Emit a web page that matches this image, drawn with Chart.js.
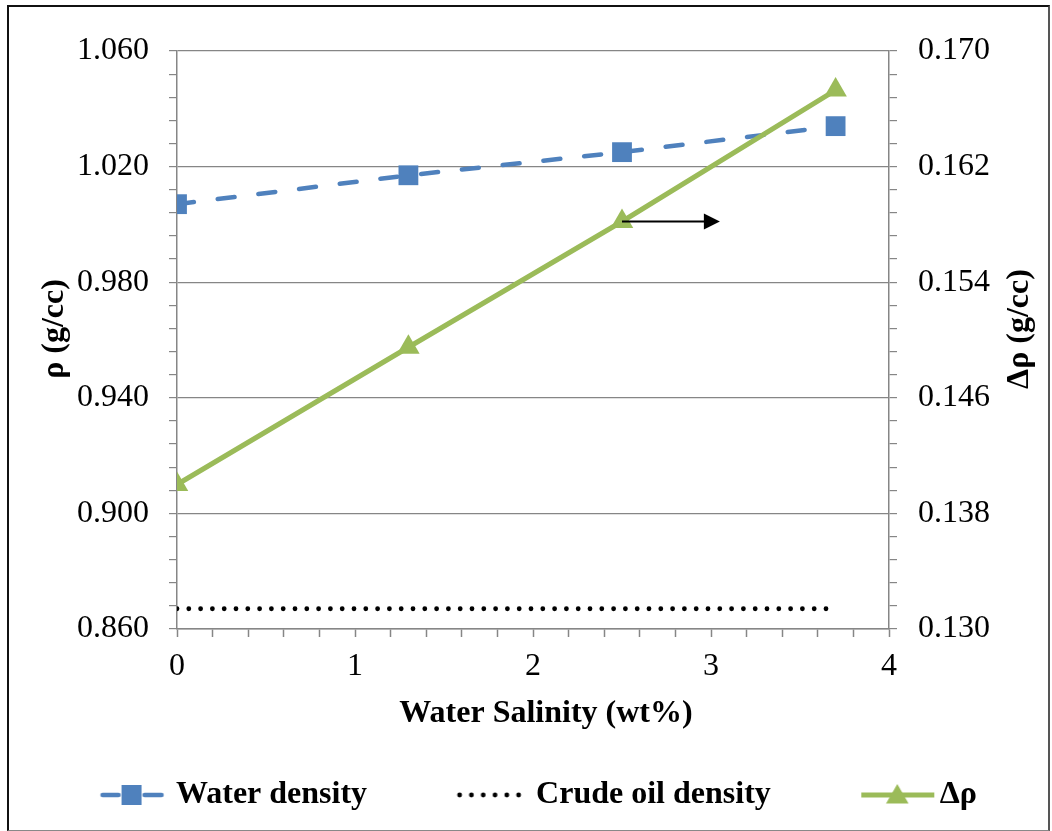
<!DOCTYPE html>
<html>
<head>
<meta charset="utf-8">
<title>Density vs water salinity</title>
<script src="https://cdn.jsdelivr.net/npm/chart.js@4.4.0/dist/chart.umd.min.js"></script>
<style>
  html, body { margin: 0; padding: 0; background: #fff; }
  #wrap { position: relative; width: 1052px; height: 831px; }
  #frame {
    position: absolute; left: 7px; top: 5px; width: 1043px; height: 826px;
    border: 2px solid #111; border-bottom: 1px solid #888; border-right-color: #555;
    box-sizing: border-box; pointer-events: none;
  }
</style>
</head>
<body>
<div id="wrap">
  <canvas id="myChart" width="1052" height="831"></canvas>
  <div id="frame"></div>
</div>
<script>
const salinity = [0, 1.3, 2.5, 3.7];
const waterDensity = [1.007, 1.017, 1.025, 1.034];
const crudeOilDensity = [0.867, 0.867, 0.867, 0.867];
const deltaRho = [0.140, 0.1495, 0.1582, 0.1673];

const xTicks = [0, 1, 2, 3, 4];
const leftTicks = [0.860, 0.900, 0.940, 0.980, 1.020, 1.060];
const rightTicks = [0.130, 0.138, 0.146, 0.154, 0.162, 0.170];
const arrowTo = 3.05;   // arrow pointing at the right-hand axis

const xTitle = 'Water Salinity (wt%)';
const leftTitle = 'ρ (g/cc)';
const rightTitle = 'Δρ (g/cc)';

const BLUE = '#4F81BD';
const GREEN = '#9BBB59';
const AXIS = '#868686';
const MINOR = 5;

Chart.defaults.font.family = '"Liberation Serif", "Times New Roman", serif';
Chart.defaults.color = '#000';

function points(ys) {
  return salinity.map((s, i) => ({ x: s, y: ys[i] }));
}

// legend icons: line + marker
function icon(draw) {
  const c = document.createElement('canvas');
  c.width = 120; c.height = 32;
  const g = c.getContext('2d');
  draw(g);
  return c;
}
const legendIcons = [
  icon(g => {
    g.strokeStyle = BLUE; g.fillStyle = BLUE; g.lineWidth = 4.5; g.lineCap = 'round';
    g.beginPath(); g.moveTo(45, 16); g.lineTo(61, 16); g.moveTo(87, 16); g.lineTo(104, 16); g.stroke();
    g.fillRect(64, 6, 20, 20);
  }),
  icon(g => {
    g.fillStyle = '#000';
    for (let i = 0; i < 6; i++) {
      g.beginPath(); g.arc(42 + i * 11.8, 16, 2.4, 0, Math.PI * 2); g.fill();
    }
  }),
  icon(g => {
    g.strokeStyle = GREEN; g.fillStyle = GREEN; g.lineWidth = 5;
    g.beginPath(); g.moveTo(40, 16); g.lineTo(113, 16); g.stroke();
    const r = 13, cy = 18;
    g.beginPath();
    g.moveTo(76, cy - r);
    g.lineTo(76 + r * 0.866, cy + r / 2);
    g.lineTo(76 - r * 0.866, cy + r / 2);
    g.closePath(); g.fill();
  })
];

const arrowPlugin = {
  id: 'arrow',
  afterDatasetsDraw(chart) {
    const { ctx, scales: { x, y1 } } = chart;
    const x0 = x.getPixelForValue(salinity[2]);
    const x1 = x.getPixelForValue(arrowTo);
    const yy = y1.getPixelForValue(deltaRho[2]);
    ctx.save();
    ctx.strokeStyle = '#000'; ctx.fillStyle = '#000'; ctx.lineWidth = 2;
    ctx.beginPath(); ctx.moveTo(x0, yy); ctx.lineTo(x1 - 14, yy); ctx.stroke();
    ctx.beginPath(); ctx.moveTo(x1, yy); ctx.lineTo(x1 - 16, yy - 8); ctx.lineTo(x1 - 16, yy + 8);
    ctx.closePath(); ctx.fill();
    ctx.restore();
  }
};

// axis titles: vertical ones read bottom-to-top, all sit slightly off centre
const axisTitles = {
  id: 'axisTitles',
  afterDraw(chart) {
    const { ctx, chartArea, scales: { x, y, y1 } } = chart;
    const mid = (chartArea.top + chartArea.bottom) / 2 - 11;
    ctx.save();
    ctx.font = 'bold 32px "Liberation Serif", serif';
    ctx.fillStyle = '#000';
    ctx.textAlign = 'center';
    ctx.textBaseline = 'middle';
    ctx.fillText(xTitle, (chartArea.left + chartArea.right) / 2 + 13, x.top + 85);
    [[y.left + 51, leftTitle], [y1.right - 28, rightTitle]].forEach(([tx, text]) => {
      ctx.save();
      ctx.translate(tx, mid);
      ctx.rotate(-Math.PI / 2);
      ctx.fillText(text, 0, 0);
      ctx.restore();
    });
    ctx.restore();
  }
};

const tickFont = { size: 32 };
const titleFont = { size: 32, weight: 'bold' };
const isMajor = c => c.index % MINOR === 0;

const data = {
  datasets: [{
    label: 'Water density',
    data: points(waterDensity),
    yAxisID: 'y',
    borderColor: BLUE,
    backgroundColor: BLUE,
    borderWidth: 4.5,
    borderDash: [17, 24],
    borderCapStyle: 'round',
    pointStyle: 'rect',
    pointRadius: 14,
    pointBorderWidth: 0,
    order: 3
  }, {
    label: 'Crude oil density',
    data: points(crudeOilDensity),
    yAxisID: 'y',
    borderColor: '#000',
    borderWidth: 4.8,
    borderDash: [0, 11.8],
    borderCapStyle: 'round',
    pointRadius: 0,
    order: 2
  }, {
    label: 'Δρ',
    data: points(deltaRho),
    yAxisID: 'y1',
    borderColor: GREEN,
    backgroundColor: GREEN,
    borderWidth: 5,
    pointStyle: 'triangle',
    pointRadius: 13,
    pointBorderWidth: 0,
    order: 1
  }]
};

const config = {
  type: 'line',
  data: data,
  plugins: [arrowPlugin, axisTitles],
  options: {
    responsive: false,
    animation: false,
    events: [],
    layout: { padding: { left: 4, right: 4, top: 51, bottom: 10 } },
    plugins: {
      tooltip: { enabled: false },
      legend: {
        position: 'bottom',
        labels: {
          usePointStyle: true,
          pointStyleWidth: 85,
          padding: 68,
          font: titleFont,
          color: '#000',
          generateLabels: chart => chart.data.datasets.map((ds, i) => ({
            text: ds.label,
            pointStyle: legendIcons[i],
            datasetIndex: i,
            fontColor: '#000',
            hidden: false,
            lineWidth: 0,
            strokeStyle: 'transparent',
            fillStyle: 'transparent'
          }))
        }
      }
    },
    scales: {
      x: {
        type: 'linear',
        min: xTicks[0],
        max: xTicks[xTicks.length - 1],
        afterFit: s => { s.height = 82; },
        border: { color: AXIS, width: 1.5 },
        grid: { drawOnChartArea: false, tickLength: 8, tickColor: AXIS, tickWidth: 1.5 },
        ticks: {
          stepSize: (xTicks[1] - xTicks[0]) / MINOR,
          autoSkip: false,
          maxRotation: 0,
          padding: 10,
          font: tickFont,
          callback: (v, i) => (i % MINOR === 0 ? String(xTicks[i / MINOR]) : '')
        }
      },
      y: {
        position: 'left',
        min: leftTicks[0],
        max: leftTicks[leftTicks.length - 1],
        afterFit: s => { s.width = 173; },
        border: { color: AXIS, width: 1.5 },
        grid: {
          color: c => (isMajor(c) ? AXIS : 'transparent'),
          tickColor: AXIS,
          tickLength: 8,
          lineWidth: 1.2
        },
        ticks: {
          stepSize: (leftTicks[1] - leftTicks[0]) / MINOR,
          autoSkip: false,
          padding: 20,
          font: tickFont,
          callback: (v, i) => (i % MINOR === 0 ? leftTicks[i / MINOR].toFixed(3) : '')
        }
      },
      y1: {
        position: 'right',
        min: rightTicks[0],
        max: rightTicks[rightTicks.length - 1],
        afterFit: s => { s.width = 159; },
        border: { color: AXIS, width: 1.5 },
        grid: { drawOnChartArea: false, tickColor: AXIS, tickLength: 8, lineWidth: 1.2 },
        ticks: {
          stepSize: (rightTicks[1] - rightTicks[0]) / MINOR,
          autoSkip: false,
          padding: 21,
          font: tickFont,
          callback: (v, i) => (i % MINOR === 0 ? rightTicks[i / MINOR].toFixed(3) : '')
        }
      }
    }
  }
};

const myChart = new Chart(document.getElementById('myChart'), config);
</script>
</body>
</html>
